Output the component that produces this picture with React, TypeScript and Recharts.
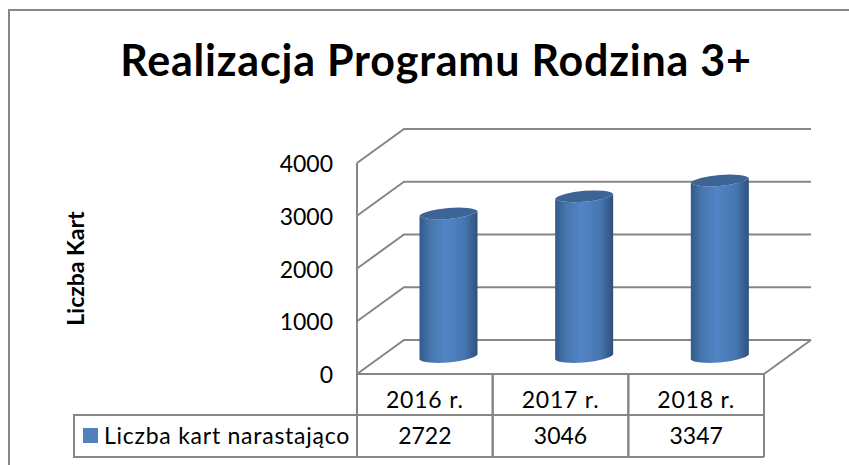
import React from 'react';
import { BarChart, Bar, XAxis, YAxis, CartesianGrid, Legend } from 'recharts';

const categories = ['2016 r.', '2017 r.', '2018 r.'];
const cardCounts = [2722, 3046, 3347];
const yTicks = [0, 1000, 2000, 3000, 4000];
const seriesName = 'Liczba kart narastająco';

const chartData = categories.map((name, i) => ({ name, cards: cardCounts[i] }));

const FONT = 'Lato, sans-serif';
const GRID = '#868686';
const DEPTH_X = 47;
const DEPTH_Y = 34;
const PLOT_LEFT = 357;
const PLOT_RIGHT = 764;
const PLOT_BOTTOM = 374;
const ROW_1_BOTTOM = 415;
const ROW_2_BOTTOM = 457;
const TABLE_LEFT = 74;
const LEGEND_HEIGHT = 30;
const BAND = (PLOT_RIGHT - PLOT_LEFT) / categories.length;

// back wall line plus the diagonal going to the y axis
const GridLine = (props: any) => {
    const { x1, x2, y1 } = props;
    const isFloor = Math.abs(y1 - PLOT_BOTTOM) < 1;
    return (
        <g fill="none" stroke={GRID} strokeWidth={2}>
            <polyline points={`${x1},${y1} ${x1 + DEPTH_X},${y1 - DEPTH_Y} ${x2 + DEPTH_X},${y1 - DEPTH_Y}`} />
            {isFloor && <line x1={x2} y1={y1} x2={x2 + DEPTH_X} y2={y1 - DEPTH_Y} />}
        </g>
    );
};

const Cylinder = (props: any) => {
    const { x, y, width, height } = props;
    const left = x + DEPTH_X / 2;
    const right = left + width;
    const topY = y - DEPTH_Y / 2;
    const bottomY = topY + height;
    const rx = width / 2 + 0.5;
    const ry = 6.5;
    const tilt = 2.4;
    const body = `M${left},${topY + tilt} L${left},${bottomY + tilt} A${rx},${ry} -5 0 0 ${right},${bottomY - tilt} L${right},${topY - tilt} A${rx},${ry} -5 0 1 ${left},${topY + tilt} Z`;
    const cap = `M${left},${topY + tilt} A${rx},${ry} -5 0 1 ${right},${topY - tilt} A${rx},${ry} -5 0 1 ${left},${topY + tilt} Z`;
    return (
        <g>
            <path d={body} fill="url(#cylinderBody)" />
            <path d={cap} fill="#3c6494" />
        </g>
    );
};

// x axis tick doubles as one column of the data table
const TableTick = (props: any) => {
    const { x, index, payload } = props;
    const left = x - BAND / 2;
    const right = x + BAND / 2;
    return (
        <g>
            <g stroke={GRID} strokeWidth={2}>
                <line x1={left} y1={PLOT_BOTTOM} x2={left} y2={ROW_2_BOTTOM} />
                <line x1={right} y1={PLOT_BOTTOM} x2={right} y2={ROW_2_BOTTOM} />
                <line x1={left} y1={ROW_1_BOTTOM} x2={right} y2={ROW_1_BOTTOM} />
                <line x1={left} y1={ROW_2_BOTTOM} x2={right} y2={ROW_2_BOTTOM} />
                {index === 0 && (
                    <>
                        <line x1={TABLE_LEFT} y1={ROW_1_BOTTOM} x2={left} y2={ROW_1_BOTTOM} />
                        <line x1={TABLE_LEFT} y1={ROW_2_BOTTOM} x2={left} y2={ROW_2_BOTTOM} />
                        <line x1={TABLE_LEFT} y1={ROW_1_BOTTOM - 1} x2={TABLE_LEFT} y2={ROW_2_BOTTOM + 1} />
                    </>
                )}
            </g>
            <text x={x} y={408} textAnchor="middle" fontFamily={FONT} fontSize={23} letterSpacing={0.8} fill="#000">{payload.value}</text>
            <text x={x} y={444} textAnchor="middle" fontFamily={FONT} fontSize={23} fill="#000">{cardCounts[index]}</text>
        </g>
    );
};

const LegendKey = () => (
    <div style={{ display: 'flex', alignItems: 'center', height: LEGEND_HEIGHT, fontFamily: FONT, fontSize: 23, letterSpacing: 0.75, color: '#000', whiteSpace: 'nowrap' }}>
        <span style={{ width: 15, height: 15, background: '#4f81bd', marginRight: 6 }} />
        {seriesName}
    </div>
);

export default function App() {
    return (
        <div style={{ position: 'absolute', left: 0, top: 0, width: 849, height: 465, background: '#fff', overflow: 'hidden' }}>
            <div style={{ position: 'absolute', left: 8, top: 9, width: 860, height: 480, border: '2px solid #868686' }} />
            <div style={{ position: 'absolute', left: 0, right: 0, top: 32, paddingLeft: 23, textAlign: 'center', fontFamily: FONT, fontWeight: 700, fontSize: 43, letterSpacing: 0.8, lineHeight: '56px', color: '#000' }}>
                Realizacja Programu Rodzina 3+
            </div>
            <BarChart
                width={849}
                height={465}
                data={chartData}
                margin={{ top: 163, right: 85, bottom: 0, left: 0 }}
                barCategoryGap={0}
                style={{ position: 'absolute', left: 0, top: 0 }}
            >
                <defs>
                    <linearGradient id="cylinderBody" x1="0" y1="0" x2="1" y2="0">
                        <stop offset="0%" stopColor="#32598a" />
                        <stop offset="18%" stopColor="#4676ad" />
                        <stop offset="45%" stopColor="#5285c6" />
                        <stop offset="78%" stopColor="#4676b0" />
                        <stop offset="100%" stopColor="#2e517b" />
                    </linearGradient>
                </defs>
                <CartesianGrid vertical={false} horizontal={(p: any) => <GridLine key={p.key} {...p} />} />
                <XAxis
                    dataKey="name"
                    height={91 - LEGEND_HEIGHT}
                    axisLine={{ stroke: GRID, strokeWidth: 2 }}
                    tickLine={false}
                    interval={0}
                    tick={(p: any) => <TableTick {...p} />}
                />
                <YAxis
                    width={357}
                    domain={[0, 4000]}
                    ticks={yTicks}
                    axisLine={{ stroke: GRID, strokeWidth: 2 }}
                    tickLine={false}
                    tickMargin={18}
                    tick={{ fontFamily: FONT, fontSize: 23, fill: '#000', dy: 1 }}
                    label={{
                        value: 'Liczba Kart',
                        angle: -90,
                        position: 'insideLeft',
                        dx: 71,
                        style: { fontFamily: FONT, fontWeight: 700, fontSize: 23, fill: '#000', textAnchor: 'middle' },
                    }}
                />
                <Legend
                    content={<LegendKey />}
                    wrapperStyle={{ left: 83, top: 420, bottom: 'auto', width: 270 }}
                />
                <Bar
                    dataKey="cards"
                    name={seriesName}
                    barSize={58}
                    shape={<Cylinder />}
                    isAnimationActive={false}
                />
            </BarChart>
        </div>
    );
}
